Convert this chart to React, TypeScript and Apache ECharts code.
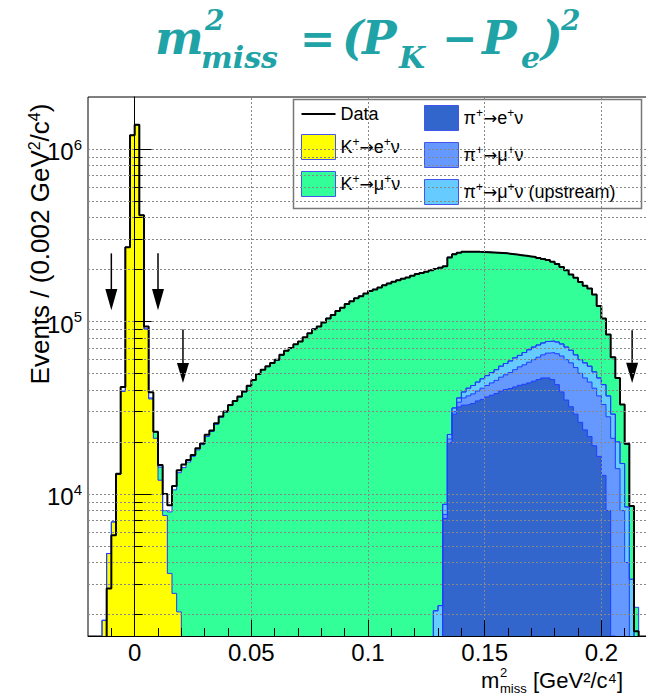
import React, { useEffect, useRef } from 'react';
import * as echarts from 'echarts';

// ---------- axis ranges ----------
const X_MIN = -0.02;
const X_MAX = 0.22;
const BIN_WIDTH = 0.002;
const Y_MIN = 1500;
const Y_MAX = 2000000;

// ---------- histograms (counts per 0.002 GeV^2/c^4 bin, first bin lower edge given by *_START) ----------
const DATA_START = -0.016;
const DATA = [500, 1300, 2830, 5750, 13100, 41700, 269000, 1200000, 1380000, 413000, 93300, 38900, 22900, 14700, 10000, 8600, 11100, 13700, 14800, 15700, 16800, 18400, 19600, 22000, 23300, 25700, 28100, 30000, 32800, 34600, 36700, 39200, 42300, 45800, 49600, 52400, 55000, 57300, 59900, 64000, 67600, 70000, 73800, 76500, 81000, 85500, 90200, 93500, 98700, 104000, 109000, 115000, 120000, 126000, 131000, 136000, 140000, 145000, 150000, 153000, 157000, 162000, 166000, 170000, 173000, 177000, 180000, 184000, 188000, 191000, 194000, 198000, 201000, 205000, 209000, 235000, 245000, 250000, 253000, 253000, 253000, 253000, 252500, 252000, 251000, 250000, 249000, 248000, 246000, 244000, 242000, 240000, 238000, 236000, 233000, 230000, 227000, 222000, 215000, 207000, 198000, 187000, 179000, 169000, 161000, 155000, 143000, 123000, 104000, 84000, 62000, 47000, 33000, 19500, 8500, 1600, 300];

const K_E_NU_START = -0.016;
const K_E_NU = [600, 1850, 4510, 6880, 13000, 39400, 269000, 1200000, 1380000, 413000, 90400, 35500, 21000, 12000, 7500, 3460, 2650, 2070, 1200, 800, 500, 300];

const K_MU_NU_START = 0.006;
const K_MU_NU = [500, 1900, 2300, 500, 4400, 7900, 11200, 13000, 14500, 16000, 17700, 19300, 21500, 23000, 25300, 27800, 29800, 32500, 34600, 36400, 39000, 42000, 45500, 49200, 52500, 54600, 57300, 59500, 63500, 67500, 70300, 73500, 76500, 80800, 85300, 90500, 93500, 98500, 104500, 109000, 115500, 120000, 126500, 131000, 136500, 140500, 145000, 150500, 153500, 157000, 162500, 166500, 170000, 173500, 177500, 180000, 184500, 188000, 191500, 194000, 198500, 199500, 203500, 200000, 214000, 215000, 215000, 214500, 212000, 211000, 208500, 206000, 204000, 200500, 197500, 194000, 191000, 187000, 182500, 178500, 174000, 169500, 165000, 160000, 155000, 150500, 145000, 139000, 133000, 127000, 119000, 115000, 109000, 103500, 100000, 92000, 76000, 61000, 47000, 33000, 27000, 18000, 11000, 5300, 1000, 300];

const PI_E_NU_START = 0.132;
const PI_E_NU = [7200, 19800, 29000, 31900, 32700, 33000, 33400, 34600, 35300, 36500, 37300, 38200, 39500, 40300, 40800, 41700, 42600, 43200, 44000, 45000, 46000, 47000, 47000, 46000, 43000, 39000, 35000, 32000, 29000, 26000, 23500, 21500, 19000, 16500, 12800, 8000, 1500];

const PI_MU_NU_START = 0.132;
const PI_MU_NU = [400, 1000, 1000, 2100, 3300, 4000, 4600, 4900, 5700, 6000, 6700, 7300, 8000, 8700, 9700, 10800, 11900, 12800, 14000, 15000, 16000, 17000, 18500, 20000, 22000, 24000, 25000, 25500, 25000, 24000, 23500, 23000, 22000, 20500, 20200, 20000, 19500, 14000, 8000, 4000, 1200];

const PI_MU_NU_UP_START = 0.128;
const PI_MU_NU_UP = [2100, 2250, 1100, 1300, 1500, 2000, 3000, 4000, 4500, 5000, 5500, 6000, 6500, 7000, 7500, 8000, 8500, 9000, 9000, 10000, 10500, 11000, 11000, 11000, 11000, 11000, 11000, 11000, 11000, 10500, 10000, 10000, 10500, 10500, 10000, 10000, 10000, 9000, 8000, 6000, 7000, 4400, 2000, 1200];

// ---------- ticks ----------
const X_MAJOR = [0, 0.05, 0.1, 0.15, 0.2];
const X_MINOR = [-0.01, 0.01, 0.02, 0.03, 0.04, 0.06, 0.07, 0.08, 0.09, 0.11, 0.12, 0.13, 0.14, 0.16, 0.17, 0.18, 0.19, 0.21];
const Y_MAJOR = [10000, 100000, 1000000];
const Y_MINOR = [2000, 3000, 4000, 5000, 6000, 7000, 8000, 9000, 20000, 30000, 40000, 50000, 60000, 70000, 80000, 90000, 200000, 300000, 400000, 500000, 600000, 700000, 800000, 900000];

// ---------- cut arrows ----------
const ARROW_X = [-0.01, 0.01, 0.0207, 0.2132];
const ARROW_TOP = [248000, 248000, 89700, 89000];
const ARROW_HEAD = [154000, 154000, 57400, 57500];
const ARROW_TIP = [116000, 116000, 44000, 44000];

// ---------- legend names ----------
const NAME_DATA = 'Data';
const NAME_KE = 'K⁺→e⁺ν';
const NAME_KMU = 'K⁺→μ⁺ν';
const NAME_PIE = 'π⁺→e⁺ν';
const NAME_PIMU = 'π⁺→μ⁺ν';
const NAME_PIMU_UP = 'π⁺→μ⁺ν (upstream)';

const N_BINS = Math.round((X_MAX - X_MIN) / BIN_WIDTH);
const FLOOR = 0.001; // empty bins: drawn far below the axis and clipped

function expandBins(start: number, values: number[]) {
  const offset = Math.round((start - X_MIN) / BIN_WIDTH);
  const out: number[] = [];
  for (let b = 0; b < N_BINS; b++) {
    const i = b - offset;
    out.push(i >= 0 && i < values.length ? values[i] : 0);
  }
  return out;
}

function binsToSteps(bins: number[]) {
  const pts: number[][] = [];
  for (let k = 0; k <= N_BINS; k++) {
    const v = bins[Math.min(k, N_BINS - 1)];
    pts.push([+(X_MIN + k * BIN_WIDTH).toFixed(4), v > 0 ? v : FLOOR]);
  }
  return pts;
}

const OUTLINE = '#1f3cff';
const FONT = 'Liberation Sans';
const TEAL = '#20a3a6';

// rich legend label: superscript "+" and a wide arrow
function legendFormatter(name: string) {
  let out = '';
  let buf = '';
  const flush = () => {
    if (buf) out += `{a|${buf}}`;
    buf = '';
  };
  for (const ch of name) {
    if (ch === '⁺') {
      flush();
      out += '{s|+}';
    } else if (ch === '→') {
      flush();
      out += '{r|→}';
    } else buf += ch;
  }
  flush();
  return out;
}

function buildOption(): any {
  // stack order, bottom to top
  const stackDefs = [
    { name: NAME_PIE, start: PI_E_NU_START, values: PI_E_NU, color: '#3366cc' },
    { name: NAME_PIMU, start: PI_MU_NU_START, values: PI_MU_NU, color: '#6699ff' },
    { name: NAME_PIMU_UP, start: PI_MU_NU_UP_START, values: PI_MU_NU_UP, color: '#66ccff' },
    { name: NAME_KE, start: K_E_NU_START, values: K_E_NU, color: '#ffff00' },
    { name: NAME_KMU, start: K_MU_NU_START, values: K_MU_NU, color: '#33ff99' },
  ];
  const colorOf: Record<string, string> = {};
  stackDefs.forEach((d) => (colorOf[d.name] = d.color));

  // cumulative sums (THStack style)
  const cumulative: number[][] = [];
  stackDefs.forEach((d, j) => {
    const own = expandBins(d.start, d.values);
    cumulative.push(own.map((v, b) => v + (j > 0 ? cumulative[j - 1][b] : 0)));
  });

  // draw the top-most cumulative first so lower layers paint over it
  const stackSeries = stackDefs
    .map((d, j) => ({
      type: 'line',
      name: d.name,
      step: 'end',
      symbol: 'none',
      silent: true,
      clip: true,
      z: 2,
      data: binsToSteps(cumulative[j]),
      lineStyle: { color: OUTLINE, width: 1 },
      itemStyle: { color: d.color },
      areaStyle: { color: d.color, opacity: 1, origin: 'start' },
    }))
    .reverse();

  const legendItem = (name: string) => ({
    name,
    icon: 'rect',
    itemStyle: { color: colorOf[name], borderColor: '#4455ee', borderWidth: 1 },
  });

  const legendBase = {
    orient: 'vertical',
    itemWidth: 34,
    itemHeight: 25,
    itemGap: 11,
    padding: 0,
    selectedMode: false,
    symbolKeepAspect: true,
    z: 4,
    formatter: legendFormatter,
    textStyle: {
      color: '#000',
      fontFamily: FONT,
      fontSize: 18,
      rich: {
        a: { fontFamily: FONT, fontSize: 18, lineHeight: 22, color: '#000' },
        r: { fontFamily: 'DejaVu Sans', fontSize: 17, lineHeight: 22, color: '#000' },
        s: { fontFamily: FONT, fontSize: 12, lineHeight: 12, verticalAlign: 'top', color: '#000' },
      },
    },
  };

  const yLabelFormatter = (v: number) => {
    const e = v > 100 ? Math.round(Math.log10(v)) : Math.round(v);
    return `{b|10}{s|${e}}`;
  };

  const gridLines = [
    ...Y_MAJOR.map((v) => ({ yAxis: v })),
    ...Y_MINOR.map((v) => ({ yAxis: v })),
    ...X_MAJOR.map((v) => ({ xAxis: v })),
  ];

  const tpart = (text: string, x: number, y: number, size: number) => ({
    type: 'text',
    x,
    y,
    z: 10,
    style: {
      text,
      fill: TEAL,
      fontFamily: 'DejaVu Serif',
      fontWeight: 'bold',
      fontStyle: 'italic',
      fontSize: size,
      lineHeight: size,
      verticalAlign: 'middle',
      align: 'left',
    },
  });

  const plainText = (text: string, x: number, y: number, size: number) => ({
    type: 'text',
    x,
    y,
    z: 10,
    style: { text, fontFamily: FONT, fontSize: size, lineHeight: size, fill: '#000', verticalAlign: 'middle' },
  });

  return {
    animation: false,
    backgroundColor: '#fff',
    grid: {
      left: 88,
      top: 97,
      width: 560,
      height: 539,
      containLabel: false,
      outerBoundsMode: 'none',
      show: true,
      borderColor: '#000',
      borderWidth: 1,
      backgroundColor: 'transparent',
    },
    xAxis: [
      {
        type: 'value',
        min: X_MIN,
        max: X_MAX,
        position: 'bottom',
        z: 5,
        axisLine: { show: true, lineStyle: { color: '#000', width: 1 } },
        axisTick: { show: true, inside: true, length: 16, customValues: X_MAJOR, lineStyle: { color: '#000' } },
        axisLabel: {
          customValues: X_MAJOR,
          formatter: (v: number) => String(v),
          fontFamily: FONT,
          fontSize: 24,
          lineHeight: 22,
          color: '#000',
          margin: 5,
        },
        splitLine: { show: false },
      },
      {
        type: 'value',
        min: X_MIN,
        max: X_MAX,
        position: 'bottom',
        z: 5,
        axisLine: { show: false },
        axisTick: { show: true, inside: true, length: 8, customValues: X_MINOR, lineStyle: { color: '#000' } },
        axisLabel: { show: false },
        splitLine: { show: false },
      },
    ],
    yAxis: [
      {
        type: 'log',
        logBase: 10,
        min: Y_MIN,
        max: Y_MAX,
        position: 'left',
        z: 5,
        axisLine: { show: true, lineStyle: { color: '#000', width: 1 } },
        axisTick: { show: true, inside: true, length: 17, customValues: Y_MAJOR, lineStyle: { color: '#000' } },
        axisLabel: {
          customValues: Y_MAJOR,
          formatter: yLabelFormatter,
          margin: 6,
          rich: {
            b: { fontFamily: FONT, fontSize: 24, lineHeight: 24, color: '#000', padding: [6, 0, 0, 0] },
            s: { fontFamily: FONT, fontSize: 15, lineHeight: 15, verticalAlign: 'top', color: '#000' },
          },
        },
        splitLine: { show: false },
      },
      {
        type: 'log',
        logBase: 10,
        min: Y_MIN,
        max: Y_MAX,
        position: 'left',
        z: 5,
        axisLine: { show: false },
        axisTick: { show: true, inside: true, length: 8, customValues: Y_MINOR, lineStyle: { color: '#000' } },
        axisLabel: { show: false },
        splitLine: { show: false },
      },
    ],
    legend: [
      {
        ...legendBase,
        left: 301,
        top: 105,
        data: [
          { name: NAME_DATA, icon: 'path://M0,0H34V2H0Z', itemStyle: { color: '#000', borderWidth: 0 } },
          legendItem(NAME_KE),
          legendItem(NAME_KMU),
        ],
      },
      { ...legendBase, left: 424, top: 105, data: [legendItem(NAME_PIE), legendItem(NAME_PIMU), legendItem(NAME_PIMU_UP)] },
    ],
    graphic: [
      {
        type: 'rect',
        z: 3,
        shape: { x: 293.5, y: 99.5, width: 348, height: 109 },
        style: { fill: '#fff', stroke: '#777', lineWidth: 1.5 },
      },
      // title  m^2_miss = (P_K - P_e)^2
      tpart('m', 155, 38, 46),
      tpart('2', 205, 20, 28),
      tpart('miss', 201, 57, 30),
      tpart('=', 300, 38, 42),
      tpart('(', 342, 38, 46),
      tpart('P', 362, 38, 46),
      tpart('K', 399, 57, 30),
      tpart('−', 442, 38, 42),
      tpart('P', 482, 38, 46),
      tpart('e', 521, 57, 30),
      tpart(')', 541, 38, 46),
      tpart('2', 561, 20, 28),
      // y axis title
      {
        type: 'text',
        x: 40,
        y: 244,
        rotation: Math.PI / 2,
        z: 10,
        style: {
          text: '{a|Events / (0.002 GeV}{s|2}{a|/c}{s|4}{a|)}',
          align: 'center',
          verticalAlign: 'middle',
          fill: '#000',
          rich: {
            a: { fontFamily: FONT, fontSize: 26, lineHeight: 28, fill: '#000', color: '#000' },
            s: { fontFamily: FONT, fontSize: 16, lineHeight: 16, verticalAlign: 'top', fill: '#000', color: '#000' },
          },
        },
      },
      // x axis title
      plainText('m', 481, 680, 22),
      plainText('2', 500, 672, 13),
      plainText('miss', 500, 688, 13),
      plainText('[GeV²/c⁴]', 533, 680, 22),
    ],
    series: [
      {
        type: 'line',
        name: 'grid',
        data: [[X_MIN, FLOOR]],
        symbol: 'none',
        silent: true,
        z: 1,
        lineStyle: { opacity: 0 },
        markLine: {
          silent: true,
          symbol: ['none', 'none'],
          label: { show: false },
          animation: false,
          lineStyle: { color: '#888', type: [2, 2], width: 1 },
          data: gridLines,
        },
      },
      ...stackSeries,
      {
        type: 'line',
        name: NAME_DATA,
        step: 'end',
        symbol: 'none',
        silent: true,
        clip: true,
        z: 3,
        data: binsToSteps(expandBins(DATA_START, DATA)),
        lineStyle: { color: '#000', width: 2 },
        itemStyle: { color: '#000' },
      },
      {
        type: 'custom',
        name: 'cuts',
        silent: true,
        z: 4,
        clip: false,
        encode: { x: 0, y: [1, 2, 3] },
        data: ARROW_X.map((x, i) => [x, ARROW_TOP[i], ARROW_HEAD[i], ARROW_TIP[i]]),
        renderItem: (params: any, api: any) => {
          const x = api.value(0);
          const pTop = api.coord([x, api.value(1)]);
          const pHead = api.coord([x, api.value(2)]);
          const pTip = api.coord([x, api.value(3)]);
          return {
            type: 'group',
            children: [
              {
                type: 'line',
                shape: { x1: pTop[0], y1: pTop[1], x2: pHead[0], y2: pHead[1] },
                style: { stroke: '#000', lineWidth: 1.5 },
              },
              {
                type: 'polygon',
                shape: { points: [[pHead[0] - 6, pHead[1]], [pHead[0] + 6, pHead[1]], [pTip[0], pTip[1]]] },
                style: { fill: '#000' },
              },
            ],
          };
        },
      },
    ],
  };
}

export default function App() {
  const ref = useRef<HTMLDivElement>(null);
  useEffect(() => {
    if (!ref.current) return;
    const chart = echarts.init(ref.current, null, { renderer: 'svg' });
    chart.setOption(buildOption());
    return () => chart.dispose();
  }, []);
  return (
    <div
      ref={ref}
      style={{ position: 'absolute', left: 0, top: 0, width: 646, height: 695, background: '#fff' }}
    />
  );
}
